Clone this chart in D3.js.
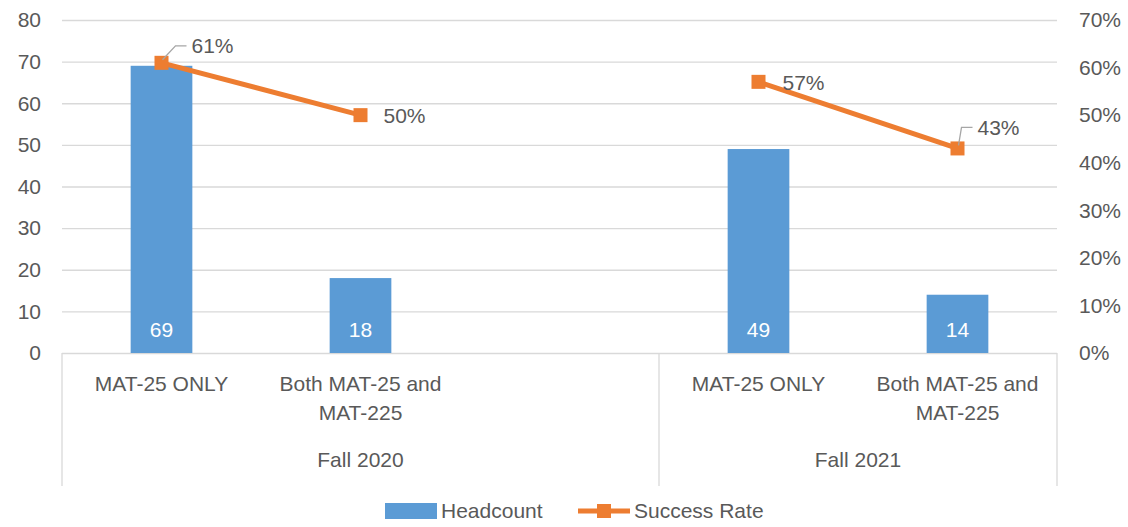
<!DOCTYPE html>
<html>
<head>
<meta charset="utf-8">
<script src="https://cdn.jsdelivr.net/npm/d3@7"></script>
<style>
  body { margin: 0; background: #fff; }
  svg text { font-family: "Liberation Sans", Arial, sans-serif; fill: #595959; }
</style>
</head>
<body>
<svg id="chart" width="1128" height="527"></svg>
<script>
// chart data
const slotTerm = ["Fall 2020", "Fall 2020", "Fall 2020", "Fall 2021", "Fall 2021"];
const slotLabel = [["MAT-25 ONLY"], ["Both MAT-25 and", "MAT-225"], [], ["MAT-25 ONLY"], ["Both MAT-25 and", "MAT-225"]];
const headcount = [69, 18, null, 49, 14];
const successRate = [0.61, 0.50, null, 0.57, 0.43];
const leftTicks = [0, 10, 20, 30, 40, 50, 60, 70, 80];
const rightTicks = [0, 0.1, 0.2, 0.3, 0.4, 0.5, 0.6, 0.7];

const blue = "#5B9BD5";
const orange = "#ED7D31";
const gridColor = "#D9D9D9";
const fs = 21;

const svg = d3.select("#chart");
const plotLeft = 62, plotRight = 1057, plotTop = 20, plotBottom = 353;

const slots = d3.range(slotTerm.length);
const x = d3.scaleBand().domain(slots).range([plotLeft, plotRight]).padding(0);
const y = d3.scaleLinear().domain([0, 80]).range([plotBottom, plotTop]);
const y2 = d3.scaleLinear().domain([0, 0.7]).range([plotBottom, plotTop]);

// gridlines
svg.append("g")
  .selectAll("line")
  .data(leftTicks)
  .join("line")
    .attr("x1", plotLeft).attr("x2", plotRight)
    .attr("y1", d => y(d) + 0.5).attr("y2", d => y(d) + 0.5)
    .attr("stroke", gridColor).attr("stroke-width", 1.3);

// left axis labels
svg.append("g")
  .selectAll("text")
  .data(leftTicks)
  .join("text")
    .attr("x", 41).attr("y", d => y(d))
    .attr("dy", "0.35em")
    .attr("text-anchor", "end")
    .attr("font-size", fs)
    .text(d => d);

// right axis labels
svg.append("g")
  .selectAll("text")
  .data(rightTicks)
  .join("text")
    .attr("x", 1079).attr("y", d => y2(d))
    .attr("dy", "0.35em")
    .attr("font-size", fs)
    .text(d => Math.round(d * 100) + "%");

// bars
const barW = x.bandwidth() * 0.31;
const bars = slots.filter(i => headcount[i] != null);
svg.append("g")
  .selectAll("rect")
  .data(bars)
  .join("rect")
    .attr("x", i => x(i) + (x.bandwidth() - barW) / 2)
    .attr("y", i => y(headcount[i]))
    .attr("width", barW)
    .attr("height", i => y(0) - y(headcount[i]))
    .attr("fill", blue);

svg.append("g")
  .selectAll("text")
  .data(bars)
  .join("text")
    .attr("x", i => x(i) + x.bandwidth() / 2)
    .attr("y", 330)
    .attr("dy", "0.35em")
    .attr("text-anchor", "middle")
    .attr("font-size", fs)
    .style("fill", "#fff")
    .text(i => headcount[i]);

// category axis
const axisG = svg.append("g");
const bounds = [plotLeft, x(3), plotRight];
axisG.selectAll("line")
  .data(bounds)
  .join("line")
    .attr("x1", d => d).attr("x2", d => d)
    .attr("y1", plotBottom).attr("y2", 486)
    .attr("stroke", gridColor).attr("stroke-width", 1.3);

axisG.append("g")
  .selectAll("text")
  .data(slots)
  .join("text")
    .attr("x", i => x(i) + x.bandwidth() / 2)
    .attr("y", 384)
    .attr("text-anchor", "middle")
    .attr("font-size", fs)
    .each(function(i) {
      d3.select(this).selectAll("tspan")
        .data(slotLabel[i])
        .join("tspan")
          .attr("x", x(i) + x.bandwidth() / 2)
          .attr("dy", (d, k) => k === 0 ? "0.35em" : "1.38em")
          .text(d => d);
    });

const terms = Array.from(new Set(slotTerm));
axisG.append("g")
  .selectAll("text")
  .data(terms)
  .join("text")
    .attr("x", t => {
      const idx = slots.filter(i => slotTerm[i] === t);
      return (x(idx[0]) + x(idx[idx.length - 1]) + x.bandwidth()) / 2;
    })
    .attr("y", 460)
    .attr("dy", "0.35em")
    .attr("text-anchor", "middle")
    .attr("font-size", fs)
    .text(t => t);

// success rate line
const line = d3.line()
  .defined(i => successRate[i] != null)
  .x(i => x(i) + x.bandwidth() / 2)
  .y(i => y2(successRate[i]));

svg.append("path")
  .datum(slots)
  .attr("d", line)
  .attr("fill", "none")
  .attr("stroke", orange)
  .attr("stroke-width", 5)
  .attr("stroke-linejoin", "round");

const pts = slots.filter(i => successRate[i] != null);
svg.append("g")
  .selectAll("rect")
  .data(pts)
  .join("rect")
    .attr("x", i => x(i) + x.bandwidth() / 2 - 7)
    .attr("y", i => y2(successRate[i]) - 7)
    .attr("width", 14).attr("height", 14)
    .attr("fill", orange);

// data labels (some with leader lines)
const labelOffset = [[30, -17, true], [23, 1, false], null, [24, 1, false], [20, -21, true]];
const lbl = svg.append("g");
pts.forEach(i => {
  const cx = x(i) + x.bandwidth() / 2, cy = y2(successRate[i]);
  const [dx, dy, leader] = labelOffset[i];
  if (leader) {
    lbl.append("path")
      .attr("d", `M${cx + 1},${cy - 3}L${cx + dx - 16},${cy + dy}L${cx + dx - 5},${cy + dy}`)
      .attr("fill", "none")
      .attr("stroke", "#A6A6A6")
      .attr("stroke-width", 1.3);
  }
  lbl.append("text")
    .attr("x", cx + dx)
    .attr("y", cy + dy)
    .attr("dy", "0.35em")
    .attr("font-size", fs)
    .text(Math.round(successRate[i] * 100) + "%");
});

// legend
const legend = svg.append("g");
legend.append("rect")
  .attr("x", 385).attr("y", 503).attr("width", 52).attr("height", 16)
  .attr("fill", blue);
legend.append("text")
  .attr("x", 441).attr("y", 511).attr("dy", "0.35em")
  .attr("font-size", fs).text("Headcount");
legend.append("line")
  .attr("x1", 578).attr("x2", 630).attr("y1", 511).attr("y2", 511)
  .attr("stroke", orange).attr("stroke-width", 5);
legend.append("rect")
  .attr("x", 597).attr("y", 504).attr("width", 14).attr("height", 14)
  .attr("fill", orange);
legend.append("text")
  .attr("x", 634).attr("y", 511).attr("dy", "0.35em")
  .attr("font-size", fs).text("Success Rate");
</script>
</body>
</html>
